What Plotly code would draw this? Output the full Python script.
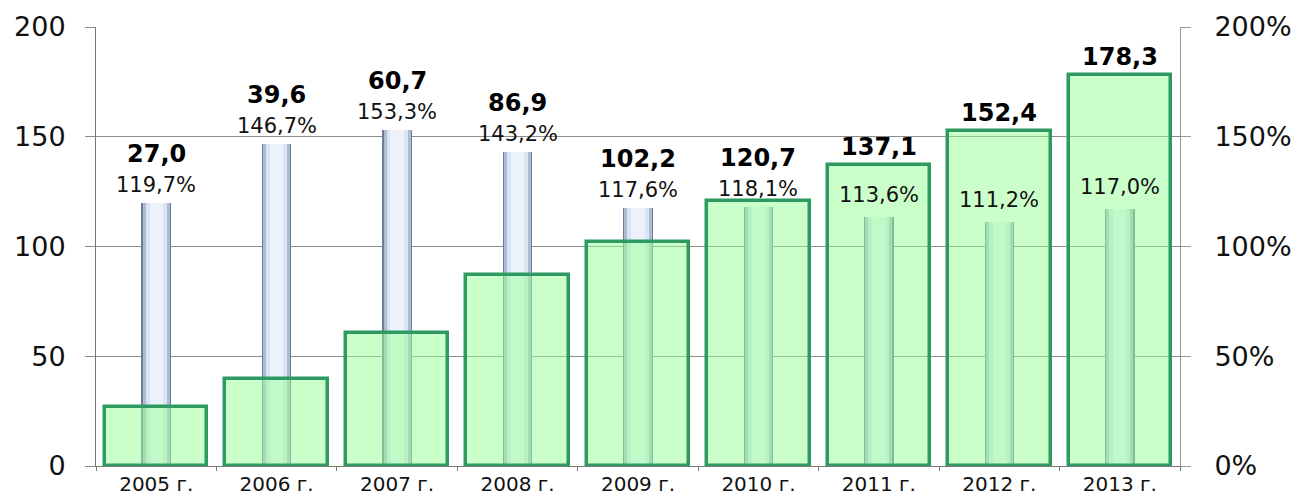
import plotly.graph_objects as go

years = ["2005 г.", "2006 г.", "2007 г.", "2008 г.", "2009 г.", "2010 г.", "2011 г.", "2012 г.", "2013 г."]
values = [27.0, 39.6, 60.7, 86.9, 102.2, 120.7, 137.1, 152.4, 178.3]
growth_pct = [119.7, 146.7, 153.3, 143.2, 117.6, 118.1, 113.6, 111.2, 117.0]
left_ticks = [0, 50, 100, 150, 200]
right_ticks = [0, 50, 100, 150, 200]
right_labels = ["0%", "50%", "100%", "150%", "200%"]

FONT = "DejaVu Sans"

def fmt(v):
    return f"{v:.1f}".replace(".", ",")

fig = go.Figure()

# narrow growth bars (stepped shading to mimic gradient)
for w, col in [(0.245, "#6c7c96"), (0.225, "#aebcd3"), (0.175, "#dbe4f2"), (0.11, "#edf2fa")]:
    fig.add_trace(go.Bar(x=years, y=growth_pct, width=w, yaxis="y",
                         marker=dict(color=col, line=dict(width=0)),
                         showlegend=False, hoverinfo="skip"))

# main green bars
fig.add_trace(go.Bar(x=years, y=values, width=0.85, yaxis="y",
                     marker=dict(color="rgba(150,255,150,0.5)",
                                 line=dict(color="#2e9a62", width=3.5)),
                     showlegend=False))

# invisible trace for the right axis
fig.add_trace(go.Scatter(x=years, y=growth_pct, yaxis="y2", mode="markers",
                         marker=dict(opacity=0), showlegend=False, hoverinfo="skip"))

annotations = []
for yr, v, p in zip(years, values, growth_pct):
    inside = p + 8 < v
    annotations.append(dict(x=yr, y=p, xref="x", yref="y", text=fmt(p) + "%",
                            showarrow=False, yanchor="bottom", yshift=8 if inside else 4,
                            font=dict(family=FONT, size=21, color="#111")))
    if p + 16 > v:
        annotations.append(dict(x=yr, y=p, xref="x", yref="y", text="<b>" + fmt(v) + "</b>",
                                showarrow=False, yanchor="bottom", yshift=33,
                                font=dict(family=FONT, size=24, color="#000")))
    else:
        annotations.append(dict(x=yr, y=v, xref="x", yref="y", text="<b>" + fmt(v) + "</b>",
                                showarrow=False, yanchor="bottom", yshift=2,
                                font=dict(family=FONT, size=24, color="#000")))

# page body has an 8px margin, so the figure is sized to fit the window
fig.update_layout(
    width=1291, height=487,
    margin=dict(l=88, r=119, t=19, b=29),
    paper_bgcolor="white", plot_bgcolor="white",
    barmode="overlay", bargap=0,
    separators=", ",
    annotations=annotations,
    xaxis=dict(type="category", showgrid=False, showline=True, linecolor="#777",
               linewidth=1, ticks="outside", tickson="boundaries", ticklen=4,
               tickcolor="#777", tickfont=dict(family=FONT, size=20, color="#111"),
               range=[-0.5, 8.5], automargin=False, ticklabelstandoff=0),
    yaxis=dict(range=[0, 200], tickvals=left_ticks, showgrid=True, gridcolor="#8c8c8c",
               gridwidth=1, showline=True, linecolor="#777", linewidth=1,
               ticks="outside", ticklen=10, tickcolor="#8c8c8c", ticklabelstandoff=14,
               tickfont=dict(family=FONT, size=27, color="#111"), zeroline=False,
               automargin=False),
    yaxis2=dict(range=[0, 200], tickvals=right_ticks, ticktext=right_labels,
                overlaying="y", side="right", showgrid=False, showline=True,
                linecolor="#999", linewidth=1, ticks="outside", ticklen=10,
                tickcolor="#999", ticklabelstandoff=18, zeroline=False,
                automargin=False,
                tickfont=dict(family=FONT, size=27, color="#111")),
)

fig.write_html("out.html")
